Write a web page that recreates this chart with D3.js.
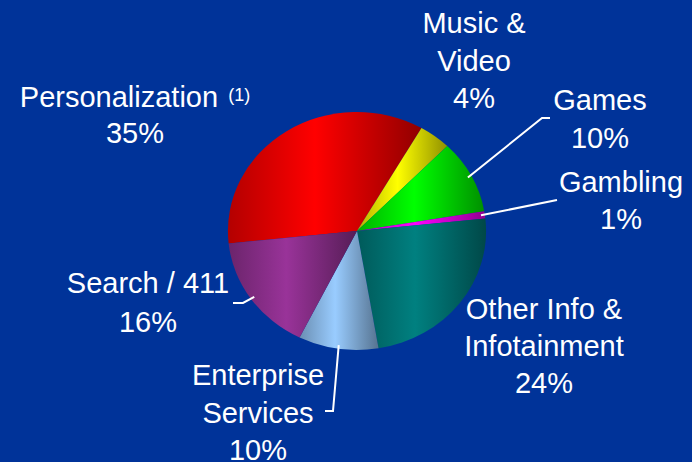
<!DOCTYPE html>
<html>
<head>
<meta charset="utf-8">
<script src="https://cdn.jsdelivr.net/npm/d3@7"></script>
<style>
  html, body { margin: 0; padding: 0; background: #003399; }
  svg { display: block; }
  text { font-family: 'Liberation Sans', Arial, sans-serif; fill: #fff; }
</style>
</head>
<body>
<div id="chart"></div>
<script>
const width = 692
const height = 462

// slices, clockwise from the left edge
const categories = ['Personalization', 'Music & Video', 'Games', 'Gambling', 'Other Info & Infotainment', 'Enterprise Services', 'Search / 411']
const shares = [35, 4, 10, 1, 24, 10, 16]
const colors = ['#ff0000', '#ffff00', '#00ff00', '#ff00ff', '#008080', '#99ccff', '#993399']
const labelLines = [
  ['Personalization'],
  ['Music &', 'Video'],
  ['Games'],
  ['Gambling'],
  ['Other Info &', 'Infotainment'],
  ['Enterprise', 'Services'],
  ['Search / 411']
]

// label layout: centre x, first baseline, line step, leader elbow/end points
const layout = [
  { x: 135, y: 107, dy: 36, note: '(1)' },
  { x: 474, y: 33, dy: 37.5 },
  { x: 600, y: 110, dy: 38, leader: [[542, 118], [550, 118]] },
  { x: 621, y: 192, dy: 37, leader: [[557, 200]] },
  { x: 544, y: 319, dy: 37 },
  { x: 258, y: 385, dy: 37.5, leader: [[333, 411], [325, 411]] },
  { x: 148, y: 293, dy: 39, leader: [[243, 303], [233, 303]] }
]

const cx = 357
const cy = 231
const rx = 129
const ry = 119

const svg = d3.select('#chart')
  .append('svg')
  .attr('width', width)
  .attr('height', height)

svg.append('rect')
  .attr('width', width)
  .attr('height', height)
  .attr('fill', '#003399')

const data = categories.map((c, i) => ({ name: c, value: shares[i], color: colors[i], i }))

const pie = d3.pie()
  .sort(null)
  .value(d => d.value)
  .startAngle(-96 * Math.PI / 180)
  .endAngle(264 * Math.PI / 180)

const arcs = pie(data)

const arc = d3.arc().innerRadius(0).outerRadius(1)

// horizontal shading per slice: darker at both sides
const defs = svg.append('defs')
arcs.forEach((a, i) => {
  const base = d3.rgb(a.data.color)
  const g = defs.append('linearGradient')
    .attr('id', 'shade' + i)
    .attr('x1', 0).attr('x2', 1).attr('y1', 0).attr('y2', 0)
  g.append('stop').attr('offset', 0).attr('stop-color', base.darker(1))
  g.append('stop').attr('offset', 0.45).attr('stop-color', base)
  g.append('stop').attr('offset', 1).attr('stop-color', base.darker(1.6))
})

const pieG = svg.append('g')
  .attr('transform', `translate(${cx},${cy}) scale(${rx},${ry})`)

pieG.selectAll('path')
  .data(arcs)
  .enter()
  .append('path')
  .attr('d', arc)
  .attr('fill', (d, i) => `url(#shade${i})`)

// point on the pie rim at a slice's middle angle
function rimPoint (a, f) {
  const m = (a.startAngle + a.endAngle) / 2
  return [cx + Math.sin(m) * rx * f, cy - Math.cos(m) * ry * f]
}

// leader lines
arcs.forEach((a, i) => {
  const l = layout[i]
  if (!l.leader) return
  const pts = [rimPoint(a, 0.97)].concat(l.leader)
  svg.append('path')
    .attr('d', d3.line()(pts))
    .attr('fill', 'none')
    .attr('stroke', '#fff')
    .attr('stroke-width', 2)
})

// labels
arcs.forEach((a, i) => {
  const l = layout[i]
  const lines = labelLines[i].concat([a.data.value + '%'])
  lines.forEach((t, k) => {
    const txt = svg.append('text')
      .attr('x', l.x)
      .attr('y', l.y + k * l.dy)
      .attr('text-anchor', 'middle')
      .attr('font-size', 29)
    txt.append('tspan').text(t)
    if (k === 0 && l.note) {
      txt.append('tspan')
        .attr('font-size', 18)
        .attr('dx', 10)
        .attr('dy', -6)
        .text(l.note)
    }
  })
})
</script>
</body>
</html>
